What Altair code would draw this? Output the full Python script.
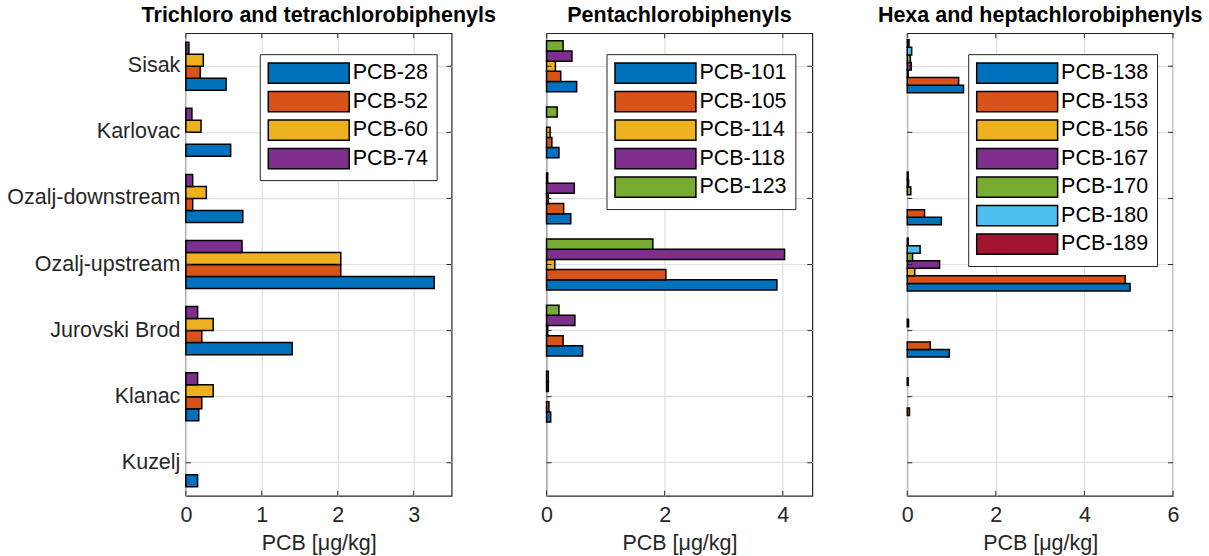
import altair as alt
import pandas as pd

sites = ["Sisak", "Karlovac", "Ozalj-downstream", "Ozalj-upstream",
         "Jurovski Brod", "Klanac", "Kuzelj"]

# Panel 1: tri- and tetrachlorobiphenyls
p1_names = ["PCB-28", "PCB-52", "PCB-60", "PCB-74"]
pcb28 = [0.53, 0.59, 0.75, 3.27, 1.40, 0.17, 0.155]
pcb52 = [0.19, 0.00, 0.09, 2.04, 0.21, 0.21, 0.0]
pcb60 = [0.23, 0.20, 0.27, 2.04, 0.36, 0.36, 0.0]
pcb74 = [0.04, 0.08, 0.09, 0.74, 0.155, 0.155, 0.0]

# Panel 2: pentachlorobiphenyls
p2_names = ["PCB-101", "PCB-105", "PCB-114", "PCB-118", "PCB-123"]
pcb101 = [0.51, 0.21, 0.41, 3.90, 0.61, 0.07, 0.0]
pcb105 = [0.24, 0.09, 0.29, 2.02, 0.28, 0.04, 0.0]
pcb114 = [0.15, 0.06, 0.03, 0.14, 0.02, 0.0, 0.0]
pcb118 = [0.43, 0.00, 0.47, 4.03, 0.48, 0.03, 0.0]
pcb123 = [0.28, 0.18, 0.02, 1.80, 0.21, 0.03, 0.0]

# Panel 3: hexa- and heptachlorobiphenyls
p3_names = ["PCB-138", "PCB-153", "PCB-156", "PCB-167", "PCB-170", "PCB-180", "PCB-189"]
pcb138 = [1.27, 0.0, 0.77, 5.03, 0.95, 0.0, 0.0]
pcb153 = [1.16, 0.0, 0.39, 4.92, 0.52, 0.05, 0.0]
pcb156 = [0.02, 0.0, 0.0, 0.17, 0.0, 0.0, 0.0]
pcb167 = [0.09, 0.0, 0.0, 0.73, 0.0, 0.0, 0.0]
pcb170 = [0.07, 0.0, 0.08, 0.12, 0.03, 0.0, 0.0]
pcb180 = [0.10, 0.0, 0.03, 0.29, 0.0, 0.02, 0.0]
pcb189 = [0.04, 0.0, 0.02, 0.02, 0.0, 0.0, 0.0]

palette = ["#0072BD", "#D95319", "#EDB120", "#7E2F8E", "#77AC30", "#4DBEEE", "#A2142F"]

FONT = "Liberation Sans"
TXT = "#262626"
FS = 21.5
W, H = 266, 463
# wide rectangular legend swatch: 8 units wide, 2 units tall
SYMBOL = "M-4,-1L4,-1L4,1L-4,1Z"
SYM_SIZE = 410  # sqrt(size)/2 = ~10.1 px per unit -> 81 x 20 px


def long_df(names, cols):
    rows = []
    for name, col in zip(names, cols):
        for s, v in zip(sites, col):
            if v > 0:
                rows.append({"site": s, "series": name, "value": v})
    return pd.DataFrame(rows)


def panel(names, cols, title, xmax, xticks, show_y, legend_x):
    n = len(names)
    gw = min(0.8, n / (n + 1.5))
    pi = 1 - gw
    df = long_df(names, cols)
    xscale = alt.Scale(domain=[0, xmax], nice=False, zero=True)
    yscale = alt.Scale(domain=sites, paddingInner=pi, paddingOuter=pi / 2)
    xaxis = alt.Axis(values=xticks, title="PCB [μg/kg]", ticks=False,
                     domain=False, grid=True, gridColor="#e0e0e0",
                     gridWidth=1.2, labelFontSize=FS, labelColor=TXT,
                     labelPadding=9, titleFontSize=FS, titleColor=TXT,
                     titleFontWeight="normal", titlePadding=6,
                     labelFlush=False)
    yaxis = alt.Axis(
        title=None, labels=show_y, ticks=False, domain=False, grid=True,
        bandPosition=0.5, labelFontSize=FS, labelColor=TXT, labelPadding=6,
        gridColor="#e0e0e0", gridWidth=1.2,
    )
    bars = alt.Chart(df).mark_bar(stroke="black", strokeWidth=1.5).encode(
        x=alt.X("value:Q", scale=xscale, axis=xaxis),
        y=alt.Y("site:N", sort=sites, scale=yscale, axis=yaxis),
        yOffset=alt.YOffset("series:N", sort=names[::-1],
                            scale=alt.Scale(domain=names[::-1], paddingInner=0,
                                            paddingOuter=0)),
        color=alt.Color("series:N", sort=names,
                        scale=alt.Scale(domain=names, range=palette[:n]),
                        legend=alt.Legend(
                            orient="none", legendX=legend_x, legendY=21,
                            title=None, symbolType=SYMBOL, symbolSize=SYM_SIZE,
                            symbolStrokeColor="black", symbolStrokeWidth=1.5,
                            symbolOpacity=1, symbolOffset=30,
                            labelFontSize=FS, labelColor="black",
                            labelOffset=33, strokeColor=TXT, fillColor="white",
                            padding=8, rowPadding=0.5)),
    )
    # inward tick marks (MATLAB style) on all four sides
    xt = pd.DataFrame({"value": xticks})
    yt = pd.DataFrame({"site": sites})
    tick_x_top = alt.Chart(xt).mark_rule(color=TXT, strokeWidth=1).encode(
        x=alt.X("value:Q", scale=xscale, axis=xaxis), y=alt.value(0), y2=alt.value(5))
    tick_x_bot = alt.Chart(xt).mark_rule(color=TXT, strokeWidth=1).encode(
        x=alt.X("value:Q", scale=xscale, axis=xaxis), y=alt.value(H), y2=alt.value(H - 5))
    tick_y_l = alt.Chart(yt).mark_rule(color=TXT, strokeWidth=1).encode(
        y=alt.Y("site:N", sort=sites, scale=yscale, axis=yaxis),
        x=alt.value(0), x2=alt.value(5))
    tick_y_r = alt.Chart(yt).mark_rule(color=TXT, strokeWidth=1).encode(
        y=alt.Y("site:N", sort=sites, scale=yscale, axis=yaxis),
        x=alt.value(W), x2=alt.value(W - 5))
    return alt.layer(bars, tick_x_top, tick_x_bot, tick_y_l, tick_y_r).properties(
        width=W, height=H,
        title=alt.TitleParams(title, fontSize=FS, fontWeight="bold", color="black",
                              anchor="middle", offset=6),
    )


c1 = panel(p1_names, [pcb28, pcb52, pcb60, pcb74],
           "Trichloro and tetrachlorobiphenyls", 3.5, [0, 1, 2, 3], True, 74)
c2 = panel(p2_names, [pcb101, pcb105, pcb114, pcb118, pcb123],
           "Pentachlorobiphenyls", 4.5, [0, 2, 4], False, 60)
c3 = panel(p3_names, [pcb138, pcb153, pcb156, pcb167, pcb170, pcb180, pcb189],
           "Hexa and heptachlorobiphenyls", 6, [0, 2, 4, 6], False, 61)

chart = alt.hconcat(c1, c2, c3, spacing=95, bounds="flush").resolve_scale(
    color="independent", y="independent", yOffset="independent", x="independent"
).properties(
    padding={"left": 6, "top": 4, "right": 5, "bottom": 2},
    background="white",
).configure(font=FONT).configure_view(stroke=TXT, strokeWidth=1.2)

chart.save("out.html", embed_options={"renderer": "svg", "actions": False})
